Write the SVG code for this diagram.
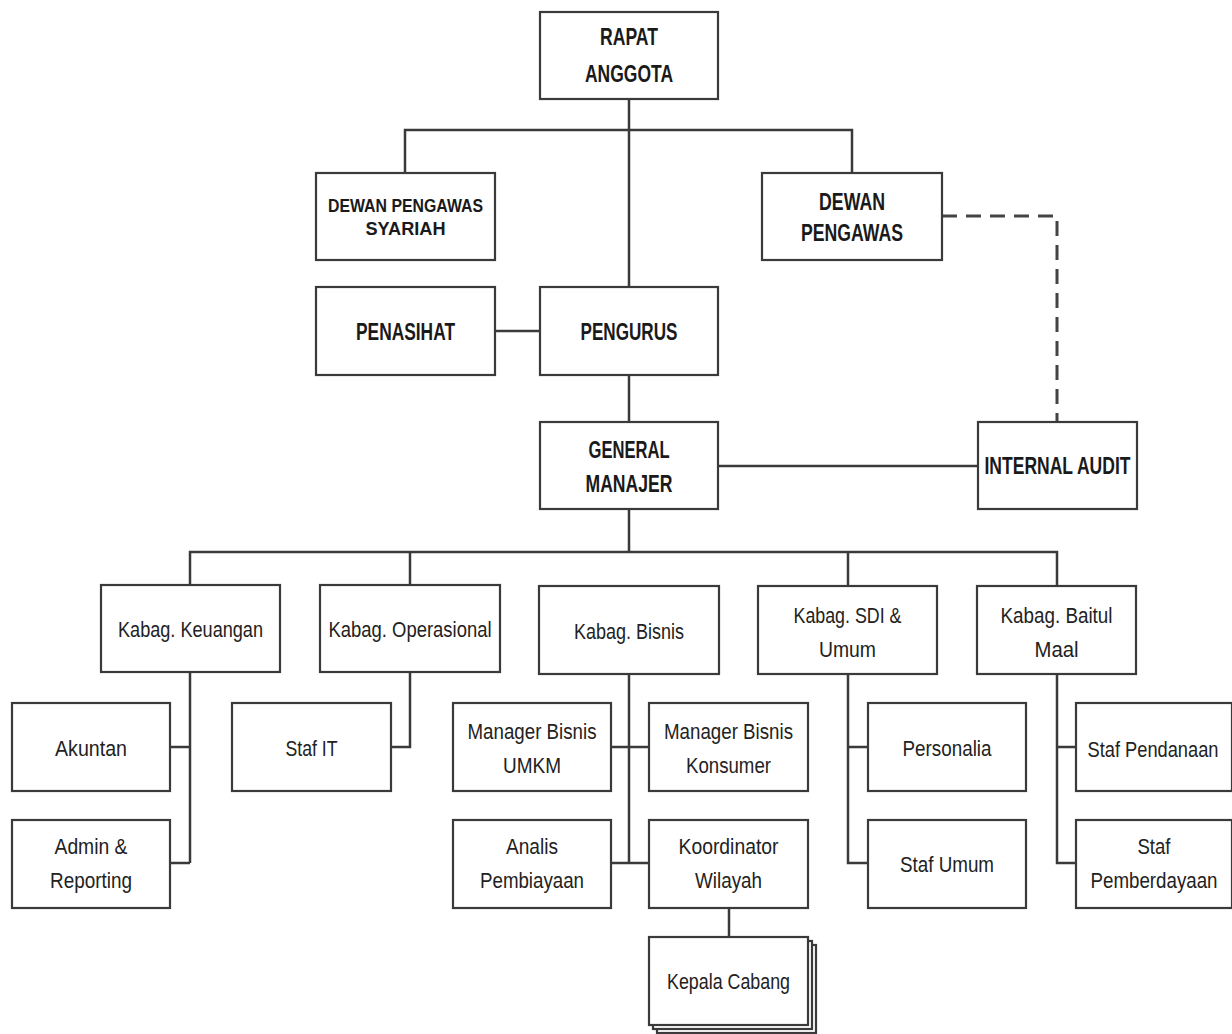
<svg xmlns="http://www.w3.org/2000/svg" width="1232" height="1034" viewBox="0 0 1232 1034">
<style>
.bx{fill:#fff;stroke:#3a3a3a;stroke-width:2.2}
.tb{font-family:"Liberation Sans Narrow","Liberation Sans",Arial,sans-serif;font-weight:bold;font-size:23px;fill:#1a1a1a;text-anchor:middle}
.ts{font-size:19px}
.t{font-family:"Liberation Sans Narrow","Liberation Sans",Arial,sans-serif;font-size:22px;fill:#222;text-anchor:middle}
.ln{stroke:#3a3a3a;stroke-width:2.5;fill:none}
.dash{stroke:#444;stroke-width:3;fill:none;stroke-dasharray:15 9}
</style>
<rect width="1232" height="1034" fill="#fff"/>
<g id="connectors">
<path class="ln" d="M629 99V287M405 173V130H852V173M495 331H540M629 375V422M718 466H978M629 509V552M190 585V552H1057V586M410 552V585M848 552V586"/>
<path class="dash" d="M942 216H1057V422"/>
<path class="ln" d="M190 672V863M170 747H190M170 863H190M410 672V747H391M629 674V863M611 747H649M611 863H649M729 908V937M848 674V863H868M848 747H868M1057 674V863H1076M1057 747H1076"/>
</g>
<g id="rapat"><rect class="bx" x="540" y="12" width="178" height="87"/><text class="tb" x="629" y="45" textLength="58" lengthAdjust="spacingAndGlyphs">RAPAT</text><text class="tb" x="629" y="82" textLength="88" lengthAdjust="spacingAndGlyphs">ANGGOTA</text></g>
<g id="dps"><rect class="bx" x="316" y="173" width="179" height="87"/><text class="tb ts" x="405.5" y="212" textLength="155" lengthAdjust="spacingAndGlyphs">DEWAN PENGAWAS</text><text class="tb ts" x="405.5" y="235" textLength="80" lengthAdjust="spacingAndGlyphs">SYARIAH</text></g>
<g id="dp"><rect class="bx" x="762" y="173" width="180" height="87"/><text class="tb" x="852" y="210" textLength="66" lengthAdjust="spacingAndGlyphs">DEWAN</text><text class="tb" x="852" y="241" textLength="102" lengthAdjust="spacingAndGlyphs">PENGAWAS</text></g>
<g id="penasihat"><rect class="bx" x="316" y="287" width="179" height="88"/><text class="tb" x="405.5" y="340" textLength="99" lengthAdjust="spacingAndGlyphs">PENASIHAT</text></g>
<g id="pengurus"><rect class="bx" x="540" y="287" width="178" height="88"/><text class="tb" x="629" y="340" textLength="97" lengthAdjust="spacingAndGlyphs">PENGURUS</text></g>
<g id="gm"><rect class="bx" x="540" y="422" width="178" height="87"/><text class="tb" x="629" y="458" textLength="81" lengthAdjust="spacingAndGlyphs">GENERAL</text><text class="tb" x="629" y="492" textLength="87" lengthAdjust="spacingAndGlyphs">MANAJER</text></g>
<g id="audit"><rect class="bx" x="978" y="422" width="159" height="87"/><text class="tb" x="1057.5" y="474" textLength="146" lengthAdjust="spacingAndGlyphs">INTERNAL AUDIT</text></g>
<g id="keuangan"><rect class="bx" x="101" y="585" width="179" height="87"/><text class="t" x="190.5" y="637" textLength="145" lengthAdjust="spacingAndGlyphs">Kabag. Keuangan</text></g>
<g id="operasional"><rect class="bx" x="320" y="585" width="180" height="87"/><text class="t" x="410" y="637" textLength="163" lengthAdjust="spacingAndGlyphs">Kabag. Operasional</text></g>
<g id="bisnis"><rect class="bx" x="539" y="586" width="180" height="88"/><text class="t" x="629" y="639" textLength="110" lengthAdjust="spacingAndGlyphs">Kabag. Bisnis</text></g>
<g id="sdi"><rect class="bx" x="758" y="586" width="179" height="88"/><text class="t" x="847.5" y="623" textLength="108" lengthAdjust="spacingAndGlyphs">Kabag. SDI &amp;</text><text class="t" x="847.5" y="657" textLength="57" lengthAdjust="spacingAndGlyphs">Umum</text></g>
<g id="baitulmaal"><rect class="bx" x="977" y="586" width="159" height="88"/><text class="t" x="1056.5" y="623" textLength="112" lengthAdjust="spacingAndGlyphs">Kabag. Baitul</text><text class="t" x="1056.5" y="657" textLength="44" lengthAdjust="spacingAndGlyphs">Maal</text></g>
<g id="akuntan"><rect class="bx" x="12" y="703" width="158" height="88"/><text class="t" x="91" y="756" textLength="72" lengthAdjust="spacingAndGlyphs">Akuntan</text></g>
<g id="admin"><rect class="bx" x="12" y="820" width="158" height="88"/><text class="t" x="91" y="854" textLength="73" lengthAdjust="spacingAndGlyphs">Admin &amp;</text><text class="t" x="91" y="888" textLength="82" lengthAdjust="spacingAndGlyphs">Reporting</text></g>
<g id="stafit"><rect class="bx" x="232" y="703" width="159" height="88"/><text class="t" x="311.5" y="756" textLength="52" lengthAdjust="spacingAndGlyphs">Staf IT</text></g>
<g id="umkm"><rect class="bx" x="453" y="703" width="158" height="88"/><text class="t" x="532" y="739" textLength="129" lengthAdjust="spacingAndGlyphs">Manager Bisnis</text><text class="t" x="532" y="773" textLength="58" lengthAdjust="spacingAndGlyphs">UMKM</text></g>
<g id="konsumer"><rect class="bx" x="649" y="703" width="159" height="88"/><text class="t" x="728.5" y="739" textLength="129" lengthAdjust="spacingAndGlyphs">Manager Bisnis</text><text class="t" x="728.5" y="773" textLength="85" lengthAdjust="spacingAndGlyphs">Konsumer</text></g>
<g id="analis"><rect class="bx" x="453" y="820" width="158" height="88"/><text class="t" x="532" y="854" textLength="52" lengthAdjust="spacingAndGlyphs">Analis</text><text class="t" x="532" y="888" textLength="104" lengthAdjust="spacingAndGlyphs">Pembiayaan</text></g>
<g id="koordinator"><rect class="bx" x="649" y="820" width="159" height="88"/><text class="t" x="728.5" y="854" textLength="100" lengthAdjust="spacingAndGlyphs">Koordinator</text><text class="t" x="728.5" y="888" textLength="67" lengthAdjust="spacingAndGlyphs">Wilayah</text></g>
<g id="kepalacabang"><rect class="bx" x="657" y="945" width="159" height="88"/><rect class="bx" x="653" y="941" width="159" height="88"/><rect class="bx" x="649" y="937" width="159" height="88"/><text class="t" x="728.5" y="989" textLength="123" lengthAdjust="spacingAndGlyphs">Kepala Cabang</text></g>
<g id="personalia"><rect class="bx" x="868" y="703" width="158" height="88"/><text class="t" x="947" y="756" textLength="89" lengthAdjust="spacingAndGlyphs">Personalia</text></g>
<g id="stafumum"><rect class="bx" x="868" y="820" width="158" height="88"/><text class="t" x="947" y="872" textLength="94" lengthAdjust="spacingAndGlyphs">Staf Umum</text></g>
<g id="pendanaan"><rect class="bx" x="1076" y="703" width="156" height="88"/><text class="t" x="1153" y="757" textLength="131" lengthAdjust="spacingAndGlyphs">Staf Pendanaan</text></g>
<g id="pemberdayaan"><rect class="bx" x="1076" y="820" width="156" height="88"/><text class="t" x="1154" y="854" textLength="33" lengthAdjust="spacingAndGlyphs">Staf</text><text class="t" x="1154" y="888" textLength="127" lengthAdjust="spacingAndGlyphs">Pemberdayaan</text></g>
</svg>
